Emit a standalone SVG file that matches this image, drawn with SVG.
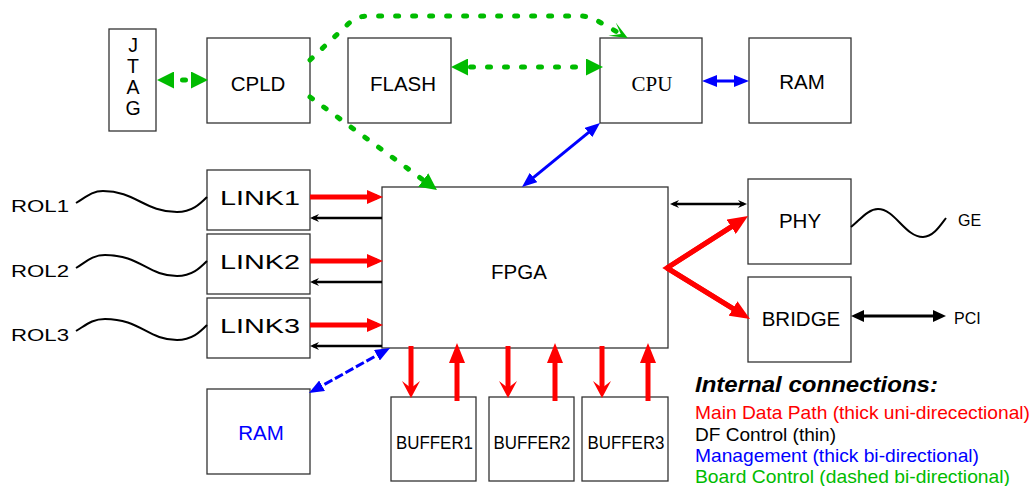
<svg xmlns="http://www.w3.org/2000/svg" width="1033" height="486" viewBox="0 0 1033 486">
<style>
.box{fill:#fff;stroke:#333;stroke-width:1.3}
text{font-family:"Liberation Sans",Arial,sans-serif;fill:#000}
.lbl{font-size:20.5px;text-anchor:middle}
.jt{font-size:19.5px;text-anchor:middle}
.serif{font-family:"Liberation Serif","Times New Roman",serif}
.small{font-size:16px}
.leg{font-size:19px}
.title{font-size:22px;font-weight:bold;font-style:italic}
.red{stroke:#f00;stroke-width:5;fill:none}
.blk{stroke:#000;stroke-width:2.5;fill:none}
.blk3{stroke:#000;stroke-width:3;fill:none}
.blue{stroke:#00f;stroke-width:3;fill:none}
.bluedash{stroke:#00f;stroke-width:3;fill:none;stroke-dasharray:9 3}
.green{stroke:#00bb00;stroke-width:5;fill:none;stroke-dasharray:3 14;stroke-linecap:round}
.wave{stroke:#000;stroke-width:2;fill:none}
</style>
<defs>
<marker id="mRed" markerUnits="userSpaceOnUse" markerWidth="16" markerHeight="14" refX="10" refY="7" orient="auto-start-reverse"><path d="M0,0L16,7L0,14z" fill="#f00"/></marker>
<marker id="mRedBig" markerUnits="userSpaceOnUse" markerWidth="20" markerHeight="17" refX="12" refY="8.5" orient="auto-start-reverse"><path d="M0,0L20,8.5L0,17z" fill="#f00"/></marker>
<marker id="mRedUp" markerUnits="userSpaceOnUse" markerWidth="20" markerHeight="16" refX="12" refY="8" orient="auto-start-reverse"><path d="M0,0L20,8L0,16z" fill="#f00"/></marker>
<marker id="mRedV" markerUnits="userSpaceOnUse" markerWidth="17" markerHeight="18" refX="10" refY="9" orient="auto-start-reverse"><path d="M0,0L17,9L0,18L7,9z" fill="#f00"/></marker>
<marker id="mBlkS" markerUnits="userSpaceOnUse" markerWidth="9" markerHeight="8" refX="6" refY="4" orient="auto-start-reverse"><path d="M0,0L9,4L0,8L3,4z" fill="#000"/></marker>
<marker id="mBlk" markerUnits="userSpaceOnUse" markerWidth="13" markerHeight="12" refX="8" refY="6" orient="auto-start-reverse"><path d="M0,0L13,6L0,12z" fill="#000"/></marker>
<marker id="mBlue" markerUnits="userSpaceOnUse" markerWidth="15" markerHeight="12" refX="9" refY="6" orient="auto-start-reverse"><path d="M0,0L15,6L0,12z" fill="#00f"/></marker>
<marker id="mGreen" markerUnits="userSpaceOnUse" markerWidth="17" markerHeight="17" refX="10" refY="8.5" orient="auto-start-reverse"><path d="M0,0L17,8.5L0,17z" fill="#00bb00"/></marker>
<marker id="mGreenOpen" markerUnits="userSpaceOnUse" markerWidth="18" markerHeight="15" refX="16" refY="7.5" orient="auto"><path d="M0,0L18,7.5L0,15L10,7.5z" fill="#00bb00"/></marker>
</defs>

<g id="JTAG"><rect class="box" x="109" y="29" width="47" height="102"/>
<text class="jt" x="133" y="52">J</text>
<text class="jt" x="133" y="72.5">T</text>
<text class="jt" x="133" y="93.5">A</text>
<text class="jt" x="133" y="114.5">G</text></g>
<g id="CPLD"><rect class="box" x="207" y="38" width="103" height="85"/><text class="lbl" x="258" y="91">CPLD</text></g>
<g id="FLASH"><rect class="box" x="348" y="38" width="103" height="85"/><text class="lbl" x="403" y="91">FLASH</text></g>
<g id="CPU"><rect class="box" x="600" y="38" width="102" height="85"/><text class="lbl serif" x="652" y="91" style="font-size:21px">CPU</text></g>
<g id="RAM_CPU"><rect class="box" x="749" y="38" width="102" height="85"/><text class="lbl" x="802" y="89">RAM</text></g>
<g id="LINK1"><rect class="box" x="207" y="170" width="103" height="60"/><text class="lbl" x="260" y="205" textLength="80" lengthAdjust="spacingAndGlyphs">LINK1</text></g>
<g id="LINK2"><rect class="box" x="207" y="234" width="103" height="60"/><text class="lbl" x="260" y="269" textLength="80" lengthAdjust="spacingAndGlyphs">LINK2</text></g>
<g id="LINK3"><rect class="box" x="207" y="298" width="103" height="60"/><text class="lbl" x="260" y="333" textLength="80" lengthAdjust="spacingAndGlyphs">LINK3</text></g>
<g id="FPGA"><rect class="box" x="382" y="187" width="286" height="161"/><text class="lbl" x="519" y="279">FPGA</text></g>
<g id="PHY"><rect class="box" x="748" y="179" width="103" height="85"/><text class="lbl" x="800" y="228">PHY</text></g>
<g id="BRIDGE"><rect class="box" x="748" y="277" width="103" height="85"/><text class="lbl" x="801" y="326">BRIDGE</text></g>
<g id="RAM_FPGA"><rect class="box" x="207" y="389" width="103" height="85"/><text class="lbl" x="261" y="440" style="fill:#00f">RAM</text></g>
<g id="BUFFER1"><rect class="box" x="391" y="397" width="85" height="84"/><text class="lbl" x="434.5" y="449" style="font-size:19px" textLength="77" lengthAdjust="spacingAndGlyphs">BUFFER1</text></g>
<g id="BUFFER2"><rect class="box" x="489" y="397" width="85" height="84"/><text class="lbl" x="532" y="449" style="font-size:19px" textLength="77" lengthAdjust="spacingAndGlyphs">BUFFER2</text></g>
<g id="BUFFER3"><rect class="box" x="582" y="397" width="86" height="84"/><text class="lbl" x="626" y="449" style="font-size:19px" textLength="77" lengthAdjust="spacingAndGlyphs">BUFFER3</text></g>

<g id="ROL1"><text class="small" x="11" y="212" textLength="58" lengthAdjust="spacingAndGlyphs">ROL1</text></g>
<g id="ROL2"><text class="small" x="11" y="277" textLength="58" lengthAdjust="spacingAndGlyphs">ROL2</text></g>
<g id="ROL3"><text class="small" x="11" y="341" textLength="58" lengthAdjust="spacingAndGlyphs">ROL3</text></g>
<g id="GE"><text class="small" x="958" y="226">GE</text></g>
<g id="PCI"><text class="small" x="954" y="324">PCI</text></g>

<g id="connectors">
<path class="wave" d="M76,203 C86,197 92,191 103,191 C135,191 145,212 177,212 C192,212 200,204 207,197"/>
<path class="wave" d="M76,268 C86,262 92,255 105,255 C140,255 148,276 177,276 C192,276 200,268 207,261"/>
<path class="wave" d="M76,331 C86,325 92,319 105,319 C140,319 148,340 177,340 C192,340 200,332 207,325"/>
<path class="wave" d="M851,227 C860,220 868,209 878,209 C895,209 905,237 923,237 C933,237 940,226 946,218"/>

<line class="green" x1="164" y1="80" x2="201" y2="80" stroke-dashoffset="-1.5" marker-start="url(#mGreen)" marker-end="url(#mGreen)"/>
<line class="green" x1="458" y1="67" x2="596" y2="67" stroke-dashoffset="4.5" marker-start="url(#mGreen)" marker-end="url(#mGreen)"/>
<line class="green" x1="310" y1="97" x2="431.3" y2="185.9" marker-end="url(#mGreen)"/>
<path class="green" d="M310,60 L347,25 Q356,16 368,16 L580,16 Q588,16 596,20 L626,37" marker-end="url(#mGreenOpen)"/>

<line class="blue" x1="708" y1="81" x2="743" y2="81" marker-start="url(#mBlue)" marker-end="url(#mBlue)"/>
<line class="blue" x1="595.4" y1="126.8" x2="526.6" y2="183.2" marker-start="url(#mBlue)" marker-end="url(#mBlue)"/>
<line class="bluedash" x1="384.8" y1="350.9" x2="314.2" y2="390.1" marker-start="url(#mBlue)" marker-end="url(#mBlue)"/>

<line class="red" x1="310" y1="197" x2="377" y2="197" marker-end="url(#mRed)"/>
<line class="red" x1="310" y1="261" x2="377" y2="261" marker-end="url(#mRed)"/>
<line class="red" x1="310" y1="325" x2="377" y2="325" marker-end="url(#mRed)"/>
<line class="blk" x1="382" y1="218" x2="313" y2="218" marker-end="url(#mBlkS)"/>
<line class="blk" x1="382" y1="282" x2="313" y2="282" marker-end="url(#mBlkS)"/>
<line class="blk" x1="382" y1="346" x2="313" y2="346" marker-end="url(#mBlkS)"/>

<line class="blk" x1="673" y1="204" x2="744" y2="204" marker-start="url(#mBlkS)" marker-end="url(#mBlkS)"/>
<path class="red" d="M741.3,220.3 L667,268 L743.2,314.8" stroke-linejoin="miter"/>
<line class="red" x1="667" y1="268" x2="741.3" y2="220.3" marker-end="url(#mRedBig)"/>
<line class="red" x1="667" y1="268" x2="743.2" y2="314.8" marker-end="url(#mRedBig)"/>
<line class="blk3" x1="856" y1="316" x2="941" y2="316" marker-start="url(#mBlk)" marker-end="url(#mBlk)"/>

<line class="red" x1="411" y1="346" x2="411" y2="391" marker-end="url(#mRedV)"/>
<line class="red" x1="457" y1="401" x2="457" y2="351" marker-end="url(#mRedUp)"/>
<line class="red" x1="508" y1="346" x2="508" y2="391" marker-end="url(#mRedV)"/>
<line class="red" x1="555" y1="401" x2="555" y2="351" marker-end="url(#mRedUp)"/>
<line class="red" x1="602" y1="346" x2="602" y2="391" marker-end="url(#mRedV)"/>
<line class="red" x1="648" y1="401" x2="648" y2="351" marker-end="url(#mRedUp)"/>
</g>

<g id="legend">
<text class="title" x="695" y="392" textLength="243" lengthAdjust="spacingAndGlyphs">Internal connections:</text>
<text class="leg" x="695" y="419" style="fill:#f00" textLength="335" lengthAdjust="spacingAndGlyphs">Main Data Path (thick uni-direcectional)</text>
<text class="leg" x="695" y="441" textLength="141" lengthAdjust="spacingAndGlyphs">DF Control (thin)</text>
<text class="leg" x="695" y="462" style="fill:#00f" textLength="284" lengthAdjust="spacingAndGlyphs">Management (thick bi-directional)</text>
<text class="leg" x="695" y="483" style="fill:#00bb00" textLength="315" lengthAdjust="spacingAndGlyphs">Board Control (dashed bi-directional)</text>
</g>
</svg>
